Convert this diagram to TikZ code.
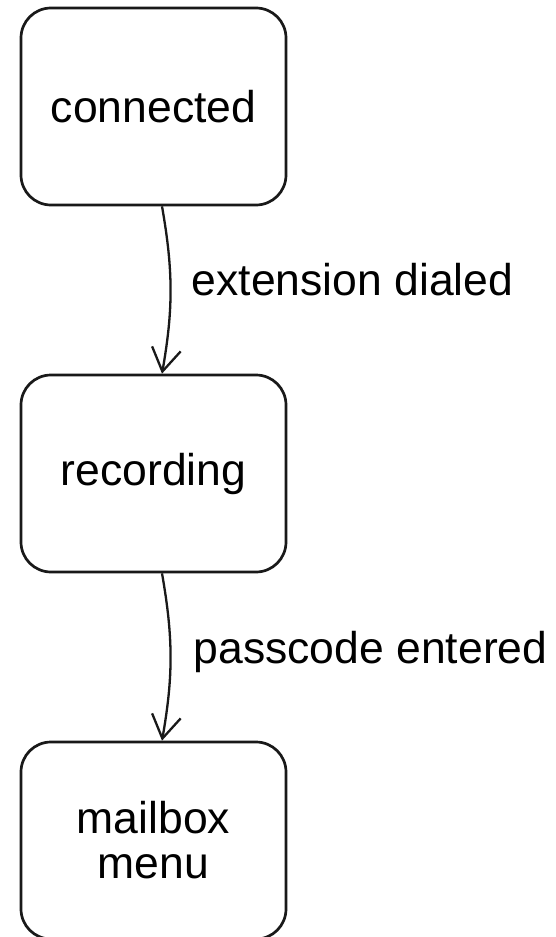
\documentclass[tikz,border=0pt]{standalone}
\usepackage{fontspec}
\setmainfont{Liberation Sans}
\usetikzlibrary{arrows.meta}
\begin{document}
\begin{tikzpicture}[x=1bp,y=-1bp,
  statebox/.style={draw=black!90, line width=2.7bp, rounded corners=30bp,
    minimum width=265bp, minimum height=197bp, inner sep=0pt,
    align=center, font=\fontsize{44.5bp}{45bp}\selectfont},
  trans/.style={draw=black!90, line width=2.3bp,
    -{Straight Barb[length=23bp,width=29bp,line width=2.3bp]}},
  translabel/.style={font=\fontsize{44.5bp}{45bp}\selectfont, inner sep=0pt,
    anchor=base west}]
\useasboundingbox (0,0) rectangle (556,937);
\fill[white] (0,0) rectangle (556,937);
\begin{scope}
\clip (0,0) rectangle (556,937);
\node[statebox] (conn) at (153.5,106.5) {connected};
\node[statebox] (rec) at (153.5,473.5) {recording};
\node[statebox] (mail) at (153.5,840.5) {mailbox\\menu};
\draw[trans] ([xshift=8.5bp]conn.south) to[bend left=10]
  node[translabel, pos=0.5, xshift=20bp, yshift=-5bp] (l1) {extension dialed} ([xshift=8.5bp]rec.north);
\draw[trans] ([xshift=8.5bp]rec.south) to[bend left=10]
  node[translabel, pos=0.5, xshift=22bp, yshift=-6bp] (l2) {passcode entered} ([xshift=8.5bp]mail.north);
\end{scope}
\end{tikzpicture}
\end{document}
